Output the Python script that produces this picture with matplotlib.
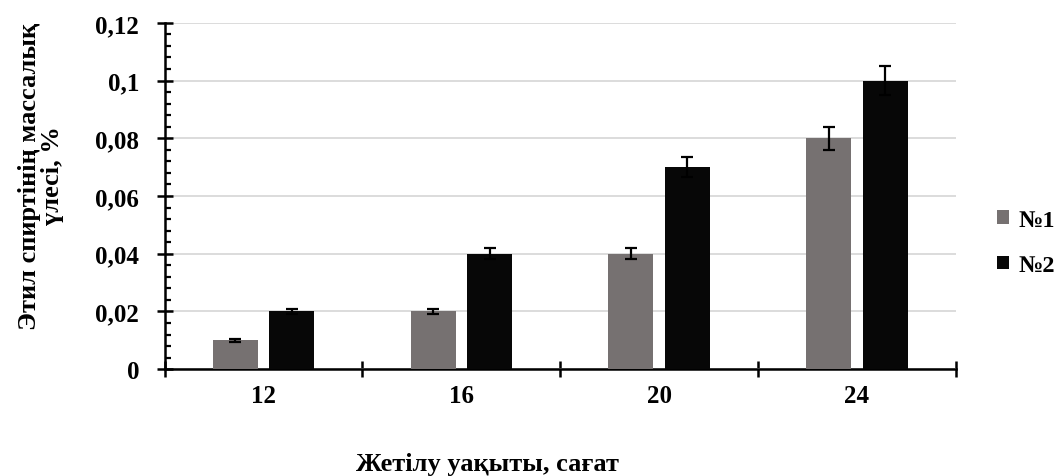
import numpy as np
import matplotlib
matplotlib.use('Agg')
import matplotlib.pyplot as plt
from matplotlib.ticker import MultipleLocator, FixedLocator, NullFormatter, FuncFormatter

plt.rcParams['font.family'] = ['Liberation Serif', 'DejaVu Serif']
plt.rcParams['font.weight'] = 'bold'

hours = ['12', '16', '20', '24']
sample1 = [0.01, 0.02, 0.04, 0.08]
sample2 = [0.02, 0.04, 0.07, 0.10]
err1 = [0.0005, 0.001, 0.002, 0.004]
err2 = [0.001, 0.002, 0.0035, 0.005]
labels = ['№1', '№2']

fig = plt.figure(figsize=(10.56, 4.77), dpi=100)
ax = fig.add_axes([0.156, 0.224, 0.749, 0.726])

x = np.arange(len(hours))
w = 0.227
ekw = dict(ecolor='black', elinewidth=1.6, capsize=4.5, capthick=1.6)
ax.bar(x - 0.143, sample1, w, color='#767171', yerr=err1, error_kw=ekw, label=labels[0], zorder=3)
ax.bar(x + 0.143, sample2, w, color='#070707', yerr=err2, error_kw=ekw, label=labels[1], zorder=3)

ax.set_xlim(-0.5, 3.5)
ax.set_ylim(0, 0.12)

# category boundaries as major ticks, labels at centres
ax.xaxis.set_major_locator(FixedLocator(np.arange(-0.5, 4, 1)))
ax.xaxis.set_major_formatter(NullFormatter())
ax.xaxis.set_minor_locator(FixedLocator(x))
ax.set_xticklabels(hours, minor=True)
ax.tick_params(axis='x', which='major', direction='inout', length=11, width=1.8)
ax.tick_params(axis='x', which='minor', length=0, pad=10.5, labelsize=18)

ax.yaxis.set_major_locator(MultipleLocator(0.02))
ax.yaxis.set_minor_locator(MultipleLocator(0.004))
ax.yaxis.set_major_formatter(FuncFormatter(lambda v, p: f'{round(v, 2):g}'.replace('.', ',')))
ax.tick_params(axis='y', which='major', direction='inout', length=11, width=1.8, labelsize=18, pad=13)
ax.tick_params(axis='y', which='minor', direction='in', length=4.5, width=1.6)

ax.grid(axis='y', color='#d9d9d9', linewidth=1.3, zorder=0)
ax.set_axisbelow(True)
for s in ['top', 'right']:
    ax.spines[s].set_visible(False)
for s in ['left', 'bottom']:
    ax.spines[s].set_linewidth(1.8)

fig.text(487 / 1056, 1 - 465 / 477, 'Жетілу уақыты, сағат', fontsize=19, fontweight='bold',
         ha='center', va='center')
fig.text(41 / 1056, 1 - 176 / 477, 'Этил спиртінің массалық\nүлесі, %', fontsize=19,
         fontweight='bold', rotation=90, ha='center', va='center', multialignment='center',
         linespacing=1.05)

ax.legend(loc='center left', bbox_to_anchor=(997 / 1056, 1 - 244 / 477),
          bbox_transform=fig.transFigure, frameon=False, fontsize=17.5, borderpad=0,
          borderaxespad=0, handlelength=0.5, handleheight=0.5, handletextpad=0.4,
          labelspacing=1.0)

plt.savefig('out.png', dpi=100)
